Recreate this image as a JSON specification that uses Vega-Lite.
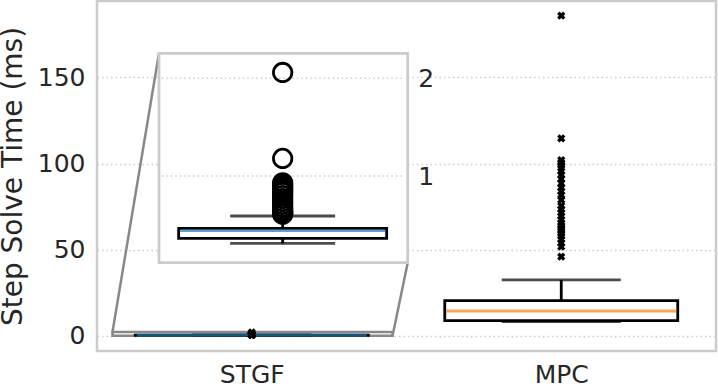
{
  "$schema": "https://vega.github.io/schema/vega-lite/v6.json",
  "width": 619,
  "height": 350,
  "autosize": {"type": "none"},
  "padding": {"left": 97, "top": 1, "right": 2, "bottom": 36},
  "background": "white",
  "config": {
    "view": {"stroke": "#cccccc", "strokeWidth": 2.5},
    "font": "DejaVu Sans",
    "axis": {
      "labelFont": "DejaVu Sans",
      "titleFont": "DejaVu Sans",
      "labelColor": "#262626",
      "titleColor": "#262626",
      "labelFontSize": 25,
      "titleFontSize": 28,
      "titleFontWeight": "normal",
      "domain": false,
      "ticks": false
    }
  },
  "datasets": {
    "boxes": [
      {"method": "STGF", "pos": 1, "lo": 0.311, "q1": 0.362, "med": 0.442, "q3": 0.463, "hi": 0.591},
      {"method": "MPC", "pos": 2, "lo": 8.3, "q1": 8.87, "med": 14.5, "q3": 20.47, "hi": 32.5}
    ],
    "outliers": [
      {"method": "STGF", "pos": 1, "v": 2.06},
      {"method": "STGF", "pos": 1, "v": 1.18},
      {"method": "STGF", "pos": 1, "v": 0.93},
      {"method": "STGF", "pos": 1, "v": 0.91},
      {"method": "STGF", "pos": 1, "v": 0.89},
      {"method": "STGF", "pos": 1, "v": 0.87},
      {"method": "STGF", "pos": 1, "v": 0.85},
      {"method": "STGF", "pos": 1, "v": 0.83},
      {"method": "STGF", "pos": 1, "v": 0.8},
      {"method": "STGF", "pos": 1, "v": 0.77},
      {"method": "STGF", "pos": 1, "v": 0.74},
      {"method": "STGF", "pos": 1, "v": 0.71},
      {"method": "STGF", "pos": 1, "v": 0.68},
      {"method": "STGF", "pos": 1, "v": 0.66},
      {"method": "STGF", "pos": 1, "v": 0.64},
      {"method": "STGF", "pos": 1, "v": 0.63},
      {"method": "STGF", "pos": 1, "v": 0.62},
      {"method": "STGF", "pos": 1, "v": 0.61},
      {"method": "MPC", "pos": 2, "v": 185.7},
      {"method": "MPC", "pos": 2, "v": 114.6},
      {"method": "MPC", "pos": 2, "v": 102},
      {"method": "MPC", "pos": 2, "v": 100.5},
      {"method": "MPC", "pos": 2, "v": 99},
      {"method": "MPC", "pos": 2, "v": 97.5},
      {"method": "MPC", "pos": 2, "v": 95.5},
      {"method": "MPC", "pos": 2, "v": 93.5},
      {"method": "MPC", "pos": 2, "v": 91},
      {"method": "MPC", "pos": 2, "v": 88.5},
      {"method": "MPC", "pos": 2, "v": 86},
      {"method": "MPC", "pos": 2, "v": 84},
      {"method": "MPC", "pos": 2, "v": 81.8},
      {"method": "MPC", "pos": 2, "v": 78.9},
      {"method": "MPC", "pos": 2, "v": 75.5},
      {"method": "MPC", "pos": 2, "v": 73.5},
      {"method": "MPC", "pos": 2, "v": 71.5},
      {"method": "MPC", "pos": 2, "v": 69.5},
      {"method": "MPC", "pos": 2, "v": 67.5},
      {"method": "MPC", "pos": 2, "v": 65.5},
      {"method": "MPC", "pos": 2, "v": 64},
      {"method": "MPC", "pos": 2, "v": 62.5},
      {"method": "MPC", "pos": 2, "v": 61},
      {"method": "MPC", "pos": 2, "v": 59.5},
      {"method": "MPC", "pos": 2, "v": 58},
      {"method": "MPC", "pos": 2, "v": 56},
      {"method": "MPC", "pos": 2, "v": 54},
      {"method": "MPC", "pos": 2, "v": 51.8},
      {"method": "MPC", "pos": 2, "v": 46}
    ],
    "insetTicks": [{"v": 1}, {"v": 2}],
    "one": [{"item": "zoom"}]
  },
  "resolve": {"scale": {"x": "independent", "y": "independent"}},
  "layer": [
    {
      "encoding": {
        "x": {
          "type": "quantitative",
          "scale": {"domain": [0.5, 2.5], "nice": false, "zero": false, "padding": 0},
          "axis": {"values": [1, 2], "labelExpr": "datum.value == 1 ? 'STGF' : 'MPC'", "grid": false, "labelPadding": 11, "title": null}
        },
        "y": {
          "type": "quantitative",
          "scale": {"domain": [-8.7, 194.24], "nice": false, "zero": false, "padding": 0},
          "axis": {"values": [0, 50, 100, 150], "title": "Step Solve Time (ms)", "grid": true, "gridColor": "#cccccc", "gridDash": [1.5, 3], "gridWidth": 1.5, "labelPadding": 12, "titlePadding": 10}
        }
      },
      "layer": [
        {
          "data": {"name": "one"},
          "mark": {"type": "rect", "filled": false, "stroke": "#888888", "strokeWidth": 2.5},
          "encoding": {
            "x": {"datum": 0.55, "type": "quantitative"},
            "x2": {"datum": 1.455},
            "y": {"datum": 0.113, "type": "quantitative"},
            "y2": {"datum": 2.256}
          }
        },
        {
          "data": {"name": "one"},
          "mark": {"type": "rule", "stroke": "#888888", "strokeWidth": 2.5},
          "encoding": {
            "x": {"datum": 0.7003, "type": "quantitative"},
            "y": {"datum": 163.9, "type": "quantitative"},
            "x2": {"datum": 0.55},
            "y2": {"datum": 2.256}
          }
        },
        {
          "data": {"name": "one"},
          "mark": {"type": "rule", "stroke": "#888888", "strokeWidth": 2.5},
          "encoding": {
            "x": {"datum": 1.5039, "type": "quantitative"},
            "y": {"datum": 42.5, "type": "quantitative"},
            "x2": {"datum": 1.455},
            "y2": {"datum": 0.113}
          }
        },
        {
          "data": {"name": "boxes"},
          "mark": {"type": "rule", "color": "black", "strokeWidth": 2.8},
          "encoding": {"x": {"field": "pos", "type": "quantitative"}, "y": {"field": "lo", "type": "quantitative"}, "y2": {"field": "q1"}}
        },
        {
          "data": {"name": "boxes"},
          "mark": {"type": "rule", "color": "black", "strokeWidth": 2.8},
          "encoding": {"x": {"field": "pos", "type": "quantitative"}, "y": {"field": "q3", "type": "quantitative"}, "y2": {"field": "hi"}}
        },
        {
          "data": {"name": "boxes"},
          "mark": {"type": "tick", "orient": "horizontal", "color": "black", "thickness": 2.8, "size": 119},
          "encoding": {"x": {"field": "pos", "type": "quantitative"}, "y": {"field": "lo", "type": "quantitative"}}
        },
        {
          "data": {"name": "boxes"},
          "mark": {"type": "tick", "orient": "horizontal", "color": "black", "thickness": 2.8, "size": 119},
          "encoding": {"x": {"field": "pos", "type": "quantitative"}, "y": {"field": "hi", "type": "quantitative"}}
        },
        {
          "data": {"name": "boxes"},
          "mark": {"type": "bar", "width": 233, "fill": "white", "stroke": "black", "strokeWidth": 2.8},
          "encoding": {"x": {"field": "pos", "type": "quantitative"}, "y": {"field": "q1", "type": "quantitative"}, "y2": {"field": "q3"}}
        },
        {
          "data": {"name": "boxes"},
          "mark": {"type": "tick", "orient": "horizontal", "thickness": 3, "size": 230},
          "encoding": {
            "x": {"field": "pos", "type": "quantitative"},
            "y": {"field": "med", "type": "quantitative"},
            "color": {"field": "method", "type": "nominal", "scale": {"domain": ["STGF", "MPC"], "range": ["#1f77b4", "#ff7f0e"]}, "legend": null}
          }
        },
        {
          "data": {"name": "outliers"},
          "mark": {"type": "point", "shape": "cross", "angle": 45, "filled": true, "color": "black", "size": 70, "opacity": 1},
          "encoding": {"x": {"field": "pos", "type": "quantitative"}, "y": {"field": "v", "type": "quantitative"}}
        }
      ]
    },
    {
      "encoding": {
        "x": {
          "type": "quantitative",
          "scale": {"domain": [0.55, 1.455], "range": [62, 310.7], "nice": false, "zero": false, "padding": 0},
          "axis": null
        },
        "y": {
          "type": "quantitative",
          "scale": {"domain": [0.113, 2.256], "range": [261.7, 52.3], "nice": false, "zero": false, "padding": 0},
          "axis": {"orient": "right", "offset": -308.3, "values": [1, 2], "grid": false, "title": null, "labelPadding": 10}
        }
      },
      "layer": [
        {
          "data": {"name": "one"},
          "mark": {"type": "rect", "fill": "white", "stroke": "#cccccc", "strokeWidth": 2.8},
          "encoding": {
            "x": {"datum": 0.55, "type": "quantitative"},
            "x2": {"datum": 1.455},
            "y": {"datum": 0.113, "type": "quantitative"},
            "y2": {"datum": 2.256}
          }
        },
        {
          "data": {"name": "insetTicks"},
          "mark": {"type": "rule", "stroke": "#cccccc", "strokeWidth": 1.5, "strokeDash": [1.5, 3]},
          "encoding": {
            "y": {"field": "v", "type": "quantitative"},
            "x": {"datum": 0.56, "type": "quantitative"},
            "x2": {"datum": 1.445}
          }
        },
        {
          "data": {"name": "boxes"},
          "transform": [{"filter": "datum.method == 'STGF'"}],
          "mark": {"type": "rule", "color": "black", "strokeWidth": 2.8},
          "encoding": {"x": {"field": "pos", "type": "quantitative"}, "y": {"field": "lo", "type": "quantitative"}, "y2": {"field": "q1"}}
        },
        {
          "data": {"name": "boxes"},
          "transform": [{"filter": "datum.method == 'STGF'"}],
          "mark": {"type": "rule", "color": "black", "strokeWidth": 2.8},
          "encoding": {"x": {"field": "pos", "type": "quantitative"}, "y": {"field": "q3", "type": "quantitative"}, "y2": {"field": "hi"}}
        },
        {
          "data": {"name": "boxes"},
          "transform": [{"filter": "datum.method == 'STGF'"}],
          "mark": {"type": "tick", "orient": "horizontal", "color": "black", "thickness": 2.8, "size": 105},
          "encoding": {"x": {"field": "pos", "type": "quantitative"}, "y": {"field": "lo", "type": "quantitative"}}
        },
        {
          "data": {"name": "boxes"},
          "transform": [{"filter": "datum.method == 'STGF'"}],
          "mark": {"type": "tick", "orient": "horizontal", "color": "black", "thickness": 2.8, "size": 105},
          "encoding": {"x": {"field": "pos", "type": "quantitative"}, "y": {"field": "hi", "type": "quantitative"}}
        },
        {
          "data": {"name": "boxes"},
          "transform": [{"filter": "datum.method == 'STGF'"}],
          "mark": {"type": "bar", "width": 208, "fill": "white", "stroke": "black", "strokeWidth": 2.8},
          "encoding": {"x": {"field": "pos", "type": "quantitative"}, "y": {"field": "q1", "type": "quantitative"}, "y2": {"field": "q3"}}
        },
        {
          "data": {"name": "boxes"},
          "transform": [{"filter": "datum.method == 'STGF'"}],
          "mark": {"type": "tick", "orient": "horizontal", "thickness": 3, "size": 205, "color": "#1f77b4"},
          "encoding": {"x": {"field": "pos", "type": "quantitative"}, "y": {"field": "med", "type": "quantitative"}}
        },
        {
          "data": {"name": "outliers"},
          "transform": [{"filter": "datum.method == 'STGF'"}],
          "mark": {"type": "point", "shape": "circle", "filled": false, "stroke": "black", "strokeWidth": 2.8, "size": 340, "opacity": 1},
          "encoding": {"x": {"field": "pos", "type": "quantitative"}, "y": {"field": "v", "type": "quantitative"}}
        }
      ]
    }
  ]
}
